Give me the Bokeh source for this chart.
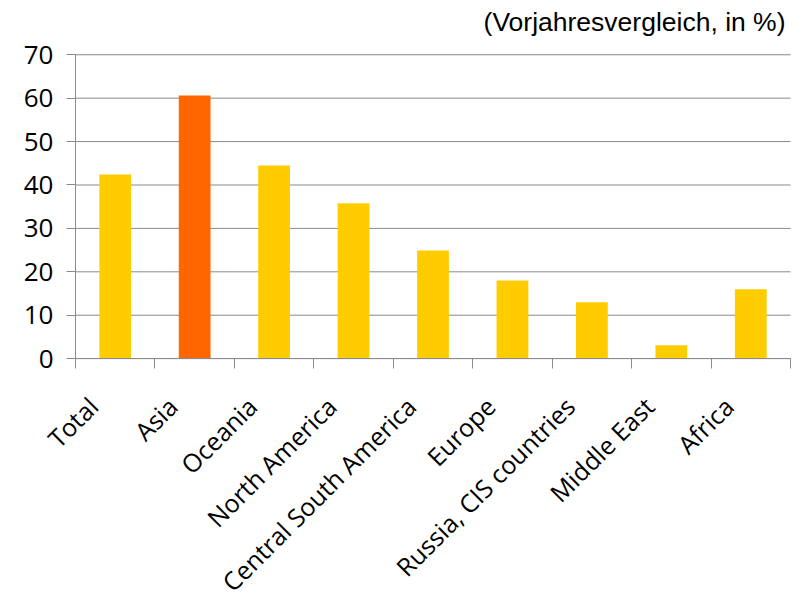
from math import pi

from bokeh.core.properties import value
from bokeh.embed import file_html
from bokeh.models import ColumnDataSource, FixedTicker, Label, LabelSet, Range1d
from bokeh.plotting import figure
from bokeh.resources import INLINE

# Year-on-year change by region, in percent
regions = ["Total", "Asia", "Oceania", "North America", "Central South America",
           "Europe", "Russia, CIS countries", "Middle East", "Africa"]
growth = [42.4, 60.6, 44.5, 35.8, 24.9, 18.0, 13.0, 3.1, 16.0]
bar_colors = ["#FFCC00", "#FF6600", "#FFCC00", "#FFCC00", "#FFCC00",
              "#FFCC00", "#FFCC00", "#FFCC00", "#FFCC00"]
y_ticks = [0, 10, 20, 30, 40, 50, 60, 70]
subtitle = "(Vorjahresvergleich, in %)"

n = len(regions)
centers = [i + 0.5 for i in range(n)]
edges = list(range(n + 1))

src = ColumnDataSource(dict(x=centers, top=growth, color=bar_colors,
                            name=regions, base=[0] * n))
grid_src = ColumnDataSource(dict(y=y_ticks, x0=[0] * len(y_ticks), x1=[n] * len(y_ticks)))

# The frame covers the whole canvas so that the rotated names, the value labels
# and the note all fit inside it; both axes are pinned at zero.
p = figure(width=796, height=596, output_backend="svg", toolbar_location=None,
           x_range=Range1d(-0.944, n + 0.0755), y_range=Range1d(-54.8, 82.5),
           min_border_left=0, min_border_right=0, min_border_top=0,
           min_border_bottom=0)
p.outline_line_color = None
p.background_fill_color = "white"
p.border_fill_color = "white"
p.xgrid.grid_line_color = None
p.ygrid.grid_line_color = None

# horizontal grid lines across the category area
p.segment(x0="x0", x1="x1", y0="y", y1="y", source=grid_src,
          line_color="#8a8a8a", line_width=1)

p.vbar(x="x", top="top", width=0.4, bottom=0, color="color", line_color=None, source=src)

# y axis
p.yaxis.fixed_location = 0
p.yaxis.ticker = FixedTicker(ticks=y_ticks)
p.yaxis.bounds = (0, 70)
p.yaxis.axis_line_color = "#8a8a8a"
p.yaxis.major_tick_line_color = "#8a8a8a"
p.yaxis.major_tick_out = 9
p.yaxis.major_tick_in = 0
p.yaxis.minor_tick_line_color = None
p.yaxis.major_label_standoff = 13
p.yaxis.major_label_text_font = "Open Sans"
p.yaxis.major_label_text_font_size = "26px"
p.yaxis.major_label_text_color = "#000000"

# x axis at zero: only the separators between categories
p.xaxis.fixed_location = 0
p.xaxis.bounds = (0, n)
p.xaxis.ticker = FixedTicker(ticks=[], minor_ticks=edges)
p.xaxis.axis_line_color = "#8a8a8a"
p.xaxis.major_tick_line_color = None
p.xaxis.minor_tick_line_color = "#8a8a8a"
p.xaxis.minor_tick_out = 10
p.xaxis.minor_tick_in = 0
p.xaxis.major_label_text_font_size = "0px"

# rotated category names, ending just left of each bar
p.add_layout(LabelSet(x="x", y="base", text="name", source=src,
                      angle=pi / 4, text_align="right", text_baseline="alphabetic",
                      x_offset=-15, y_offset=-50,
                      text_font=value("Open Sans"), text_font_size=value("25px"),
                      text_color="#000000"))

p.add_layout(Label(x=n, y=70, text=subtitle, x_offset=-5, y_offset=33,
                   text_align="right", text_baseline="alphabetic",
                   text_font="Liberation Sans", text_font_size="26.5px",
                   text_color="#000000"))

open("out.html", "w").write(file_html(p, INLINE))
